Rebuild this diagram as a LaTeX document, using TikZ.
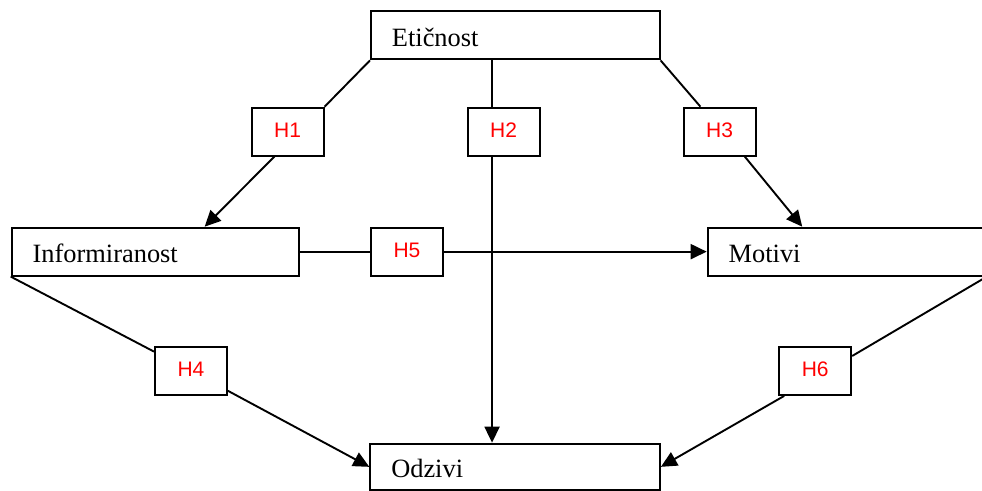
\documentclass[tikz,border=0pt]{standalone}
\usepackage{fontspec}
\setmainfont{Liberation Serif}
\newfontfamily\hfont{Liberation Sans}
\usetikzlibrary{arrows.meta,calc}
\begin{document}
\begin{tikzpicture}[x=0.5pt,y=-0.5pt, line width=0.95pt,
  mainbox/.style={draw, rectangle, anchor=north west, minimum height=24pt,
    inner xsep=10.5pt, align=left, text height=11pt, text depth=0pt,
    font=\fontsize{13.2}{15}\selectfont},
  hbox/.style={draw, rectangle, anchor=north west, minimum width=36pt,
    minimum height=24pt, text=red, font=\hfont\fontsize{10.5}{12}\selectfont,
    text height=6pt, text depth=0pt},
  arr/.style={-{Triangle[length=8pt,width=7.5pt]}}]
\useasboundingbox (0,0) rectangle (982,491);

\node[mainbox, text width=123.35pt] (Eticnost) at (370,10.5) {Etičnost};
\node[mainbox, text width=122.8pt] (Inf) at (10.7,226.7) {Informiranost};
\node[mainbox, text width=118.15pt] (Motivi) at (706.7,226.7) {Motivi};
\node[mainbox, text width=123.85pt, minimum height=23.2pt] (Odzivi) at (369.3,442.7) {Odzivi};

\node[hbox] (H1) at (250.7,106.7) {H1};
\node[hbox] (H2) at (466.7,106.7) {H2};
\node[hbox] (H3) at (682.7,106.7) {H3};
\node[hbox] (H5) at (370,226.7) {H5};
\node[hbox] (H4) at (154,346) {H4};
\node[hbox] (H6) at (778.3,346) {H6};

\coordinate (e2) at ($(Eticnost.south west)!0.42!(Eticnost.south east)$);

\draw (Eticnost.south west) -- (H1.north east);
\draw[arr] ($(H1.south west)!0.32!(H1.south east)$) -- ($(Inf.north west)!0.67!(Inf.north east)$);
\draw (e2) -- (e2 |- H2.north);
\draw[arr] (e2 |- H2.south) -- (e2 |- Odzivi.north);
\draw (Eticnost.south east) -- ($(H3.north west)!0.24!(H3.north east)$);
\draw[arr] ($(H3.south west)!0.84!(H3.south east)$) -- ($(Motivi.north west)!0.341!(Motivi.north east)$);
\draw (Inf.east) -- (H5.west);
\draw[arr] (H5.east) -- (Motivi.west);
\draw (Inf.south west) -- (H4);
\draw[arr] (H4) -- (Odzivi.west);
\draw (Motivi.south east) -- ($(H6.north east)!0.2!(H6.south east)$);
\draw[arr] ($(H6.south west)!0.08!(H6.south east)$) -- (Odzivi.east);
\end{tikzpicture}
\end{document}
